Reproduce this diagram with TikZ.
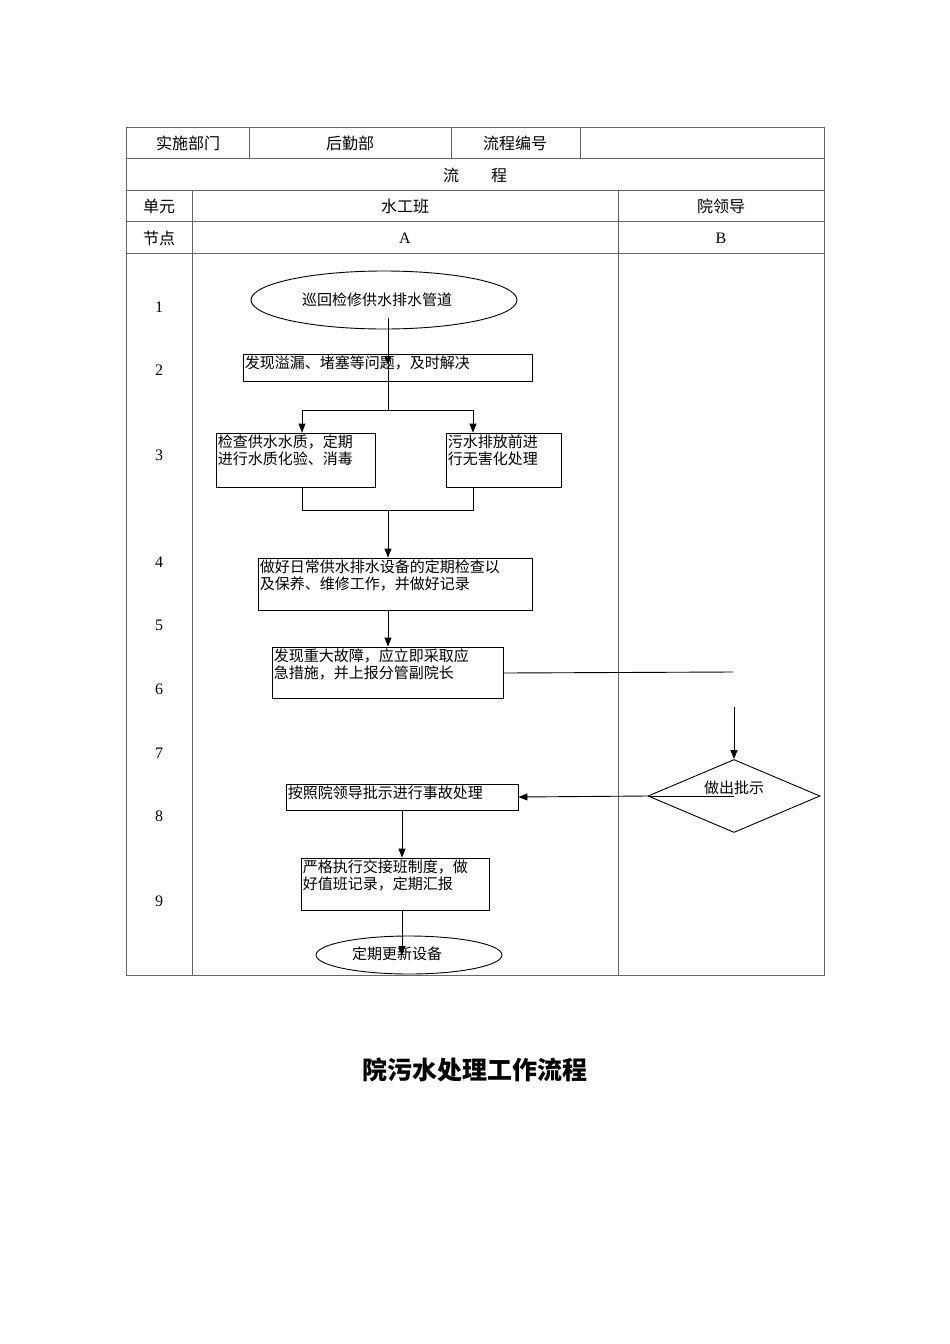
\documentclass[tikz,border=0pt]{standalone}
\usepackage{fontspec}
\setmainfont{Liberation Serif}
\newfontfamily\cjk{Noto Sans CJK SC}
\usetikzlibrary{shapes.geometric,arrows.meta}
\begin{document}
\begin{tikzpicture}[x=1pt,y=-1pt,
  grid/.style={draw=black!60,line width=0.8pt},
  box/.style={draw,line width=0.9pt,rectangle,inner sep=0pt},
  txt/.style={anchor=north west,inner sep=2pt,align=left,font=\cjk\fontsize{15}{17}\selectfont},
  cell/.style={font=\cjk\fontsize{16}{18}\selectfont,inner sep=0pt},
  num/.style={font=\fontsize{16}{18}\selectfont,inner sep=0pt},
  arr/.style={-{Triangle[length=9pt,width=7pt]},line width=0.9pt},
  ln/.style={line width=0.9pt}]
\useasboundingbox (0,0) rectangle (950,1344);
% table
\draw[grid] (126,127) rectangle (824,975);
\foreach \y in {158,190,221,253} \draw[grid] (126,\y) -- (824,\y);
\foreach \x in {249,451,580} \draw[grid] (\x,127) -- (\x,158);
\foreach \x in {192,618} \draw[grid] (\x,190) -- (\x,975);
\node[cell] (h1) at (188,143) {实施部门};
\node[cell] (h2) at (350,143) {后勤部};
\node[cell] (h3) at (515,143) {流程编号};
\node[cell] (h4) at (475,175) {流\hspace{2em}程};
\node[cell] (h5) at (159,206) {单元};
\node[cell] (h6) at (405,206) {水工班};
\node[cell] (h7) at (721,206) {院领导};
\node[cell] (h8) at (159,238) {节点};
\node[num] (h9) at (405,238) {A};
\node[num] (h10) at (721,238) {B};
\foreach \n/\y in {1/307,2/370,3/455,4/562,5/625,6/689,7/753,8/816,9/901}
  \node[num] (r\n) at (159,\y) {\n};
% nodes
\node[box,ellipse,minimum width=266pt,minimum height=58pt] (e1) at (384,300) {};
\node[cell,font=\cjk\fontsize{15}{17}\selectfont] (e1t) at (377,300) {巡回检修供水排水管道};
\node[box,minimum width=289pt,minimum height=27pt] (b2) at (387.5,367.5) {};
\node[txt] (b2t) at (b2.north west) {发现溢漏、堵塞等问题，及时解决};
\node[box,minimum width=159pt,minimum height=54pt] (b3a) at (295.5,460) {};
\node[txt] (b3at) at (b3a.north west) {检查供水水质，定期\\进行水质化验、消毒};
\node[box,minimum width=115pt,minimum height=54pt] (b3b) at (503.5,460) {};
\node[txt] (b3bt) at (b3b.north west) {污水排放前进\\行无害化处理};
\node[box,minimum width=274pt,minimum height=52pt] (b4) at (395,584) {};
\node[txt] (b4t) at (b4.north west) {做好日常供水排水设备的定期检查以\\及保养、维修工作，并做好记录};
\node[box,minimum width=231pt,minimum height=51pt] (b6) at (387.5,672.5) {};
\node[txt] (b6t) at (b6.north west) {发现重大故障，应立即采取应\\急措施，并上报分管副院长};
\node[box,diamond,aspect=2.35,minimum width=172pt,minimum height=73pt] (d7) at (734,796) {};
\node[cell,font=\cjk\fontsize{15}{17}\selectfont] (d7t) at (734,788) {做出批示};
\node[box,minimum width=232pt,minimum height=26pt] (b8) at (402,797) {};
\node[txt] (b8t) at (b8.north west) {按照院领导批示进行事故处理};
\node[box,minimum width=188pt,minimum height=52pt] (b9) at (395,884) {};
\node[txt] (b9t) at (b9.north west) {严格执行交接班制度，做\\好值班记录，定期汇报};
\node[box,ellipse,minimum width=186pt,minimum height=38pt] (e10) at (409,955) {};
\node[cell,font=\cjk\fontsize{15}{17}\selectfont] (e10t) at (397,954) {定期更新设备};
% connectors
\coordinate (c1) at (388,318);
\coordinate (c2) at (388,365);
\coordinate (s) at (388,410);
\coordinate (sl) at (302,410);
\coordinate (sr) at (473,410);
\draw[arr] (c1) -- (c2);
\draw[ln] (c2) -- (s);
\draw[ln] (sl) -- (sr);
\draw[arr] (sl) -- (b3a.north -| sl);
\draw[arr] (sr) -- (b3b.north -| sr);
\coordinate (ml) at (302,510);
\coordinate (mr) at (473,510);
\coordinate (m) at (388,510);
\draw[ln] (b3a.south -| ml) -- (ml) -- (mr) -- (b3b.south -| mr);
\draw[arr] (m) -- (b4.north -| m);
\draw[arr] (b4.south -| m) -- (b6.north -| m);
\coordinate (q1) at (733,672);
\coordinate (q2) at (734,707);
\draw[ln] (b6.east |- 0,673) -- (q1);
\draw[arr] (q2) -- (d7.north);
\draw[ln] (d7.center) -- (d7.west);
\draw[arr] (d7.west) -- (b8.east);
\coordinate (v) at (402,810);
\draw[arr] (v) -- (b9.north -| v);
\draw[arr] (b9.south -| v) -- (402,955);
\node[font=\cjk\bfseries\fontsize{25}{28}\selectfont] (title) at (475,1070) {院污水处理工作流程};
\end{tikzpicture}
\end{document}
